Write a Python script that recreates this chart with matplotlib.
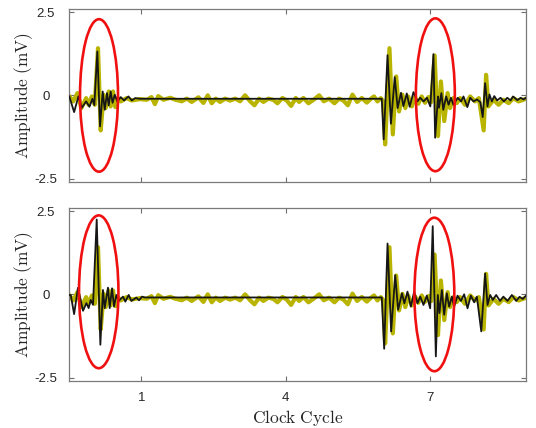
import matplotlib.pyplot as plt
from matplotlib.patches import Ellipse
import numpy as np

plt.rcParams['mathtext.fontset'] = 'cm'
plt.rcParams['font.family'] = ['Liberation Sans', 'DejaVu Sans']

# reference signal (thick olive), same in both panels
ref_t = [-0.5, -0.47, -0.42, -0.33, -0.25, -0.15, -0.10, -0.03, 0.03, 0.097, 0.153,
         0.215, 0.257, 0.32, 0.36, 0.41, 0.458, 0.51, 0.57, 0.69, 0.80, 0.97, 1.11,
         1.21, 1.28, 1.35, 1.46, 1.60, 1.70, 1.839, 1.943, 2.047, 2.186, 2.290, 2.380,
         2.463, 2.546, 2.637, 2.741, 2.845, 2.949, 3.053, 3.157, 3.261, 3.351, 3.448,
         3.538, 3.642, 3.746, 3.830, 3.934, 4.024, 4.114, 4.211, 4.281, 4.371, 4.475,
         4.586, 4.697, 4.794, 4.905, 5.016, 5.113, 5.203, 5.294, 5.391, 5.488, 5.585,
         5.689, 5.793, 5.84, 5.91, 5.98, 6.035, 6.07, 6.16, 6.23, 6.30, 6.36, 6.43,
         6.49, 6.55, 6.625, 6.69, 6.76, 6.83, 6.90, 6.97, 7.03, 7.10, 7.17, 7.23,
         7.30, 7.37, 7.42, 7.49, 7.56, 7.63, 7.73, 7.84, 7.94, 8.02, 8.12, 8.17,
         8.22, 8.325, 8.43, 8.53, 8.64, 8.74, 8.845, 8.98, 9.0]
ref_v = [-0.02, -0.08, -0.18, 0.07, -0.38, -0.08, -0.28, -0.03, -0.28, 1.42, -1.05,
         0.02, -0.38, 0.12, -0.33, 0.12, -0.35, -0.08, -0.18, -0.08, -0.15, -0.11, -0.13,
         -0.05, -0.26, -0.02, -0.13, -0.07, -0.126, -0.175, -0.096, -0.195, -0.056, -0.225, 0.004,
         -0.235, -0.096, -0.195, -0.096, -0.155, -0.096, -0.175, 0.004, -0.175, -0.295, -0.096,
         -0.195, -0.096, -0.135, -0.235, -0.076, -0.155, -0.315, -0.076, -0.195, -0.076, -0.235,
         -0.126, 0.004, -0.175, -0.096, -0.235, -0.096, -0.155, -0.295, 0.024, -0.195, -0.076,
         -0.215, -0.076, -0.03, -0.18, -0.08, -0.18, -1.47, 1.42, -1.17, 0.57, -0.48, 0.02,
         -0.38, -0.03, -0.33, -0.05, -0.25, -0.03, -0.22, -0.05, -0.20, 1.20, -1.22, 0.42,
         -0.77, 0.07, -0.38, -0.08, -0.23, -0.08, -0.28, -0.03, -0.18, -0.08, -1.05, 0.62,
         -0.33, -0.13, -0.28, -0.13, -0.23, -0.08, -0.18, -0.11, -0.10]

# reconstructed signal, upper panel
top_t = [-0.5, -0.40, -0.31, -0.24, -0.15, -0.08, -0.02, 0.02, 0.083, 0.139, 0.195,
         0.237, 0.285, 0.32, 0.36, 0.40, 0.445, 0.50, 0.57, 0.64, 0.73, 0.80, 0.87,
         0.97, 6.00, 6.04, 6.12, 6.19, 6.27, 6.33, 6.40, 6.45, 6.52, 6.58, 6.66, 6.74,
         6.80, 6.87, 6.94, 7.01, 7.075, 7.11, 7.17, 7.19, 7.24, 7.28, 7.34, 7.39, 7.44,
         7.49, 7.58, 7.65, 7.70, 7.78, 7.84, 7.91, 7.98, 8.05, 8.10, 8.15, 8.20, 8.24,
         8.29, 8.34, 8.40, 8.47, 8.54, 8.61, 8.68, 8.73, 8.82, 8.89, 8.95, 9.0]
top_v = [-0.03, -0.50, -0.03, -0.37, -0.18, -0.34, -0.10, -0.29, 1.32, -0.93, 0.12,
         -0.43, 0.07, -0.30, 0.12, -0.22, 0.02, -0.18, -0.05, -0.15, -0.03, -0.15, -0.08,
         -0.10, -0.10, -1.32, 1.21, -0.85, 0.55, -0.38, 0.08, -0.32, 0.06, -0.34, 0.10, -0.18,
         -0.07, -0.18, -0.07, -0.33, 1.24, -1.27, -0.03, -0.37, 0.07, -0.43, -0.03, -0.28, -0.07,
         -0.28, -0.07, -0.18, -0.03, -0.35, -0.07, -0.18, -0.12, -0.20, -0.65, 0.37, -0.33, 0.03,
         -0.18, -0.02, -0.15, -0.07, -0.18, -0.07, -0.15, -0.03, -0.14, -0.07, -0.12, -0.07]

# reconstructed signal, lower panel
bot_t = [-0.5, -0.47, -0.40, -0.32, -0.215, -0.145, -0.097, -0.055, -0.007, 0.07, 0.146,
         0.20, 0.236, 0.305, 0.34, 0.389, 0.43, 0.479, 0.527, 0.617, 0.666, 0.735, 0.791,
         0.895, 0.95, 1.013, 1.07, 6.00, 6.05, 6.12, 6.195, 6.28, 6.34, 6.42, 6.47, 6.535,
         6.605, 6.674, 6.743, 6.80, 6.868, 6.937, 7.007, 7.06, 7.125, 7.166, 7.2, 7.25,
         7.298, 7.353, 7.402, 7.458, 7.506, 7.576, 7.645, 7.714, 7.784, 7.853, 7.922, 7.978,
         8.07, 8.15, 8.20, 8.255, 8.31, 8.38, 8.46, 8.53, 8.616, 8.706, 8.797, 8.866, 8.935, 9.0]
bot_v = [-0.02, -0.015, -0.59, 0.20, -0.49, -0.26, -0.41, -0.165, -0.31, 2.25, -1.51,
         0.135, -0.41, 0.205, -0.41, 0.185, -0.36, -0.015, -0.195, -0.065, -0.215, -0.015, -0.195,
         -0.095, -0.175, -0.065, -0.09, -0.09, -1.63, 1.53, -1.11, 0.58, -0.46, 0.035, -0.265, 0.085,
         -0.365, 0.085, -0.265, -0.065, -0.315, -0.035, -0.415, 2.05, -1.86, -0.015, -0.56, 0.135,
         -0.61, 0.035, -0.365, -0.065, -0.365, -0.035, -0.195, 0.005, -0.415, -0.035, -0.235, -0.065,
         -1.11, 0.63, -0.315, -0.015, -0.165, -0.015, -0.195, -0.065, -0.195, -0.015, -0.195, -0.07, -0.135, -0.035]

# highlighted pulses (centre x, centre y, width, height) per panel
marks_top = [(0.118, 0.0, 0.79, 4.58), (7.115, 0.02, 0.81, 4.59)]
marks_bot = [(0.112, 0.08, 0.82, 4.59), (7.094, 0.0, 0.83, 4.61)]

xticks = [1, 4, 7]
yticks = [-2.5, 0, 2.5]
ytick_labels = ['-2.5', '0', '2.5']

fig = plt.figure(figsize=(5.36, 4.28), dpi=100)
ax1 = fig.add_axes([0.1293, 0.5755, 0.852, 0.403])
ax2 = fig.add_axes([0.1293, 0.1105, 0.852, 0.403])

for ax, t, v, marks in [(ax1, top_t, top_v, marks_top), (ax2, bot_t, bot_v, marks_bot)]:
    ax.plot(ref_t, ref_v, color='#b8b400', lw=3.0, solid_joinstyle='round', zorder=2)
    ax.plot(t, v, color='#161616', lw=1.3, zorder=3)
    for cx, cy, w, h in marks:
        ax.add_patch(Ellipse((cx, cy), w, h, fill=False, ec='#f01010', lw=1.9, zorder=4))
    ax.set_xlim(-0.5, 9.0)
    ax.set_ylim(-2.59, 2.59)
    ax.set_xticks(xticks)
    ax.set_yticks(yticks)
    ax.set_yticklabels(ytick_labels, ha='center')
    ax.tick_params(direction='in', length=3.5, width=0.8, color='#6e6e6e',
                   top=True, right=True, labelsize=9.5, labelcolor='#262626')
    ax.tick_params(axis='y', pad=17)
    for s in ax.spines.values():
        s.set_color('#7a7a7a')
        s.set_linewidth(0.9)
    ax.set_ylabel(r'$\mathrm{Amplitude\ (mV)}$', fontsize=12.5, color='#262626', va='center')
    ax.yaxis.set_label_coords(-0.1, 0.5)

ax1.tick_params(labelbottom=False)
ax2.tick_params(axis='x', pad=8)
ax2.set_xlabel(r'$\mathrm{Clock\ Cycle}$', fontsize=12.5, color='#262626', labelpad=3)

plt.savefig('out.png', dpi=100)
